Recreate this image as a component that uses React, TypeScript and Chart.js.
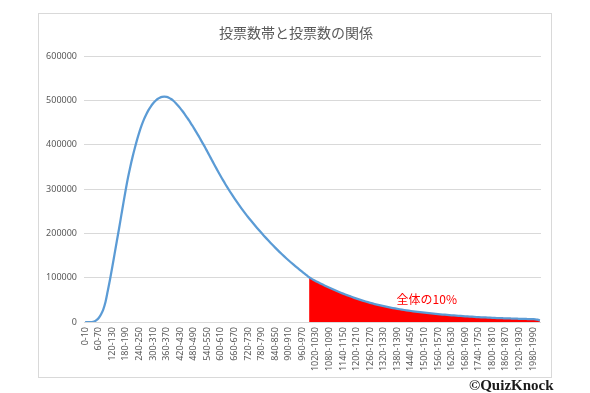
import React, { useEffect, useRef } from "react";
import { Chart, registerables } from "chart.js";

Chart.register(...registerables);

const TITLE = "投票数帯と投票数の関係";
const NOTE = "全体の10%";
const CREDIT = "©QuizKnock";

// 202 bins of 10 votes: "0-10" ... "2010-2020"
const BIN_STARTS: number[] = Array.from({ length: 202 }, (_, i) => i * 10);
const CATEGORIES: string[] = BIN_STARTS.map((s) => `${s}-${s + 10}`);

const VOTES: number[] = [
  0, 0, 0, 0, 1000, 4000, 9000, 17000, 28000, 45000,
  70000, 96000, 124000, 153000, 182000, 211000, 241000, 271000, 300000, 327000,
  351000, 373000, 393000, 412000, 429000, 444000, 457000, 468000, 478000, 486000,
  493000, 498500, 503000, 506000, 508000, 508500, 508000, 506000, 503000, 499000,
  494000, 488500, 482500, 476000, 469000, 461500, 454000, 446000, 438000, 429500,
  421000, 412000, 403000, 394000, 384500, 375000, 365500, 356000, 346600, 337300,
  328200, 319300, 310800, 302500, 294400, 286500, 278800, 271300, 264000, 256900,
  250000, 243300, 236800, 230500, 224300, 218200, 212200, 206300, 200500, 194800,
  189200, 183700, 178300, 173000, 167800, 162700, 157700, 152800, 148000, 143300,
  138700, 134200, 129800, 125500, 121300, 117200, 113000, 109000, 105000, 101000,
  97900, 94950, 92150, 89450, 86850, 84350, 81900, 79500, 77150, 74850,
  72600, 70400, 68250, 66150, 64100, 62100, 60150, 58250, 56300, 54450,
  52700, 51000, 49350, 47750, 46200, 44700, 43250, 41850, 40500, 39200,
  37950, 36750, 35600, 34500, 33450, 32450, 31480, 30540, 29630, 28750,
  27900, 27080, 26290, 25530, 24800, 24100, 23420, 22760, 22120, 21500,
  20900, 20320, 19760, 19220, 18700, 18200, 17720, 17260, 16810, 16370,
  15940, 15520, 15110, 14710, 14320, 13940, 13570, 13210, 12860, 12520,
  12190, 11870, 11560, 11260, 10970, 10690, 10420, 10160, 9910, 9670,
  9440, 9220, 9010, 8810, 8620, 8430, 8250, 8070, 7900, 7730,
  7570, 7410, 7250, 7100, 6950, 6800, 6650, 6500, 6350, 6150,
  5300, 3500,
];

// index of the first bin shaded as the top 10%
const TOP_START_INDEX = 99;
const TOP_SHARE: (number | null)[] = VOTES.map((v, i) => (i >= TOP_START_INDEX ? v : null));

// note anchor (category index, value)
const NOTE_INDEX = 151;
const NOTE_VALUE = 50000;

const Y_TICKS_MAX = 600000;
const Y_TICKS_STEP = 100000;
const LABEL_EVERY = 6;

const GRID = "#d9d9d9";
const TEXT = "#595959";

const decor = {
  id: "decor",
  beforeDraw(chart: any) {
    const ctx = chart.ctx;
    ctx.save();
    ctx.fillStyle = "#ffffff";
    ctx.fillRect(0, 0, chart.width, chart.height);
    ctx.strokeStyle = GRID;
    ctx.lineWidth = 1;
    ctx.strokeRect(38.5, 13.5, 513, 364);
    ctx.fillStyle = TEXT;
    ctx.font = '14px "Noto Sans CJK JP"';
    ctx.textAlign = "center";
    ctx.textBaseline = "middle";
    ctx.fillText(TITLE, 296, 33);
    ctx.restore();
  },
  afterDraw(chart: any) {
    const ctx = chart.ctx;
    const x = chart.scales.x.getPixelForValue(NOTE_INDEX);
    const y = chart.scales.y.getPixelForValue(NOTE_VALUE);
    ctx.save();
    ctx.fillStyle = "#ff0000";
    ctx.font = '12px "Noto Sans CJK JP"';
    ctx.textAlign = "center";
    ctx.textBaseline = "middle";
    ctx.fillText(NOTE, x, y);
    ctx.restore();
  },
};

export default function App() {
  const ref = useRef<HTMLCanvasElement | null>(null);

  useEffect(() => {
    if (!ref.current) return;
    const chart = new Chart(ref.current, {
      type: "line",
      data: {
        labels: CATEGORIES,
        datasets: [
          {
            data: VOTES,
            borderColor: "#5B9BD5",
            borderWidth: 2.25,
            pointRadius: 0,
            cubicInterpolationMode: "monotone",
            fill: false,
          },
          {
            data: TOP_SHARE,
            borderColor: "rgba(0,0,0,0)",
            borderWidth: 0,
            backgroundColor: "#ff0000",
            pointRadius: 0,
            cubicInterpolationMode: "monotone",
            fill: "origin",
            spanGaps: false,
          },
        ],
      },
      options: {
        responsive: false,
        animation: false,
        layout: { padding: { left: 38, right: 49, top: 56, bottom: 0 } },
        plugins: {
          legend: { display: false },
          tooltip: { enabled: false },
          title: { display: false },
        },
        scales: {
          x: {
            type: "category",
            offset: true,
            grid: { display: false, drawTicks: false },
            border: { display: false },
            afterFit: (s: any) => {
              s.height = 71;
            },
            ticks: {
              autoSkip: false,
              maxRotation: 90,
              minRotation: 90,
              padding: 5,
              color: TEXT,
              font: { size: 9, family: '"Noto Sans", sans-serif' },
              callback: (_v: any, i: number) => (i % LABEL_EVERY === 0 ? CATEGORIES[i] : ""),
            },
          },
          y: {
            min: 0,
            max: Y_TICKS_MAX,
            grid: { color: GRID, lineWidth: 1, drawTicks: false },
            border: { display: false },
            afterFit: (s: any) => {
              s.width = 46;
            },
            ticks: {
              stepSize: Y_TICKS_STEP,
              padding: 7,
              color: TEXT,
              font: { size: 9, family: '"Noto Sans", sans-serif' },
              callback: (v: any) => String(v),
            },
          },
        },
      },
      plugins: [decor],
    });
    return () => chart.destroy();
  }, []);

  return (
    <div
      style={{
        position: "fixed",
        left: 0,
        top: 0,
        width: 590,
        height: 393,
        background: "#ffffff",
        overflow: "hidden",
      }}
    >
      <canvas ref={ref} width={590} height={393} style={{ display: "block" }} />
      <div
        style={{
          position: "absolute",
          left: 469,
          top: 377,
          font: 'bold 15px "Liberation Serif", serif',
          color: "#1a1a1a",
          lineHeight: "16px",
          whiteSpace: "nowrap",
        }}
      >
        {CREDIT}
      </div>
    </div>
  );
}
